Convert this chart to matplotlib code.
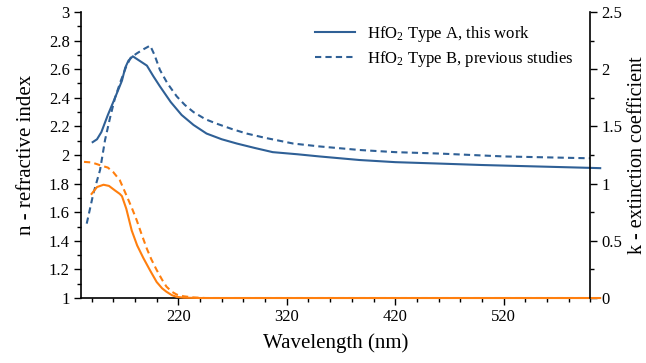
import matplotlib
matplotlib.use("Agg")
import matplotlib.pyplot as plt
from matplotlib.ticker import MultipleLocator, FuncFormatter

plt.rcParams['font.family'] = ['Liberation Serif', 'DejaVu Serif']
plt.rcParams['mathtext.fontset'] = 'custom'
plt.rcParams['mathtext.rm'] = 'Liberation Serif'
plt.rcParams['mathtext.it'] = 'Liberation Serif:italic'

# Refractive index n, Type A (this work)
wl_nA = [141, 145, 149, 155, 161.6, 168, 171, 174, 178, 184, 191, 197, 203, 213, 223,
         234, 246, 260, 274, 290, 307, 330, 350, 387, 420, 461, 500, 550, 600, 609]
n_A = [2.09, 2.11, 2.16, 2.28, 2.40, 2.52, 2.61, 2.66, 2.69, 2.66, 2.625, 2.55, 2.48, 2.37, 2.28,
       2.21, 2.15, 2.11, 2.08, 2.05, 2.02, 2.005, 1.99, 1.965, 1.95, 1.94, 1.93, 1.92, 1.91, 1.908]

# Refractive index n, Type B (previous studies)
wl_nB = [135.5, 141.6, 147.8, 152.4, 157, 161.6, 167, 172, 176, 181.6, 188, 194, 198, 203, 210,
         218.5, 226, 234, 245, 255, 270, 283, 300, 326, 350, 387, 420, 461, 520, 600]
n_B = [1.52, 1.73, 1.895, 2.105, 2.26, 2.40, 2.52, 2.62, 2.68, 2.71, 2.74, 2.765, 2.70, 2.595, 2.50,
       2.41, 2.35, 2.30, 2.25, 2.22, 2.18, 2.15, 2.12, 2.08, 2.06, 2.035, 2.02, 2.01, 1.99, 1.977]

# Extinction coefficient k, Type A
wl_kA = [140, 145, 151, 156, 161.6, 166, 168, 172, 177, 182, 187.7, 194, 200, 205, 209,
         214, 218.5, 225, 240, 609]
k_A = [0.91, 0.97, 0.99, 0.98, 0.94, 0.91, 0.89, 0.78, 0.59, 0.46, 0.35, 0.24, 0.14, 0.085, 0.055,
       0.025, 0.01, 0.003, 0.0, 0.0]

# Extinction coefficient k, Type B
wl_kB = [133, 140, 145, 148, 155, 160, 166, 172, 177, 181.6, 186, 191, 195, 200, 205,
         209, 214, 218.5, 225, 234, 245, 600]
k_B = [1.19, 1.185, 1.17, 1.16, 1.14, 1.10, 1.03, 0.90, 0.79, 0.68, 0.56, 0.43, 0.34, 0.245, 0.16,
       0.10, 0.055, 0.03, 0.015, 0.005, 0.0, 0.0]

x_ticks = [220, 320, 420, 520]
label_A = 'HfO$_2$ Type A, this work'
label_B = 'HfO$_2$ Type B, previous studies'

blue = '#2f6096'
orange = '#ff7f0e'

fig = plt.figure(figsize=(6.46, 3.63), dpi=100)
ax = fig.add_axes([0.125, 0.179, 0.789, 0.788])
ax2 = ax.twinx()

lA, = ax.plot(wl_nA, n_A, color=blue, lw=1.5, clip_on=False, label=label_A)
lB, = ax.plot(wl_nB, n_B, color=blue, lw=1.5, ls=(0, (3, 2)), label=label_B)
ax2.plot(wl_kA, k_A, color=orange, lw=1.5, clip_on=False)
ax2.plot(wl_kB, k_B, color=orange, lw=1.5, ls=(0, (3, 2)))

ax.set_xlim(130, 600)
ax.set_ylim(1, 3)
ax2.set_ylim(0, 2.5)

ax.set_xticks(x_ticks)
ax.xaxis.set_minor_locator(MultipleLocator(20))
ax.yaxis.set_major_locator(MultipleLocator(0.2))
ax.yaxis.set_minor_locator(MultipleLocator(0.1))
ax.yaxis.set_major_formatter(FuncFormatter(lambda v, p: f'{v:g}'))
ax2.yaxis.set_major_locator(MultipleLocator(0.5))
ax2.yaxis.set_minor_locator(MultipleLocator(0.25))
ax2.yaxis.set_major_formatter(FuncFormatter(lambda v, p: f'{v:g}'))

for a in (ax, ax2):
    a.spines['top'].set_visible(False)
    a.tick_params(which='major', length=5, width=1, labelsize=12, direction='out', pad=3)
    a.tick_params(which='minor', length=3, width=1, direction='out')
    for s in a.spines.values():
        s.set_linewidth(1.2)
ax.spines['right'].set_visible(False)
ax2.spines['left'].set_visible(False)
ax2.spines['bottom'].set_visible(False)

ax.set_xlabel('Wavelength (nm)', fontsize=15, labelpad=6)
ax.set_ylabel('n - refractive index', fontsize=15, labelpad=9)
ax2.set_ylabel('k - extinction coefficient', fontsize=14.5, labelpad=4)

ax.legend(handles=[lA, lB], loc='upper right', frameon=False, fontsize=12,
          handlelength=2.4, handletextpad=0.7, borderaxespad=0.3, labelspacing=0.3,
          bbox_to_anchor=(0.99, 1.0))

fig.savefig('out.png', dpi=100)
